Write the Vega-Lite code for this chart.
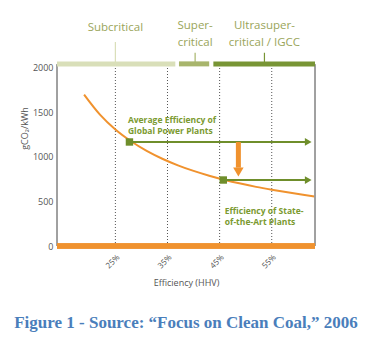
{
  "$schema": "https://vega.github.io/schema/vega-lite/v6.json",
  "width": 258,
  "height": 236,
  "autosize": {"type": "none"},
  "padding": {"left": 57, "top": 10, "right": 52, "bottom": 103},
  "background": "white",
  "config": {
    "view": {"stroke": null},
    "font": "Open Sans"
  },
  "title": {"text": "Figure 1 - Source: \u201cFocus on Clean Coal,\u201d 2006", "orient": "bottom", "anchor": "middle", "font": "Liberation Serif", "fontSize": 17, "fontWeight": "bold", "color": "#4a7ebb", "offset": 27},
  "datasets": {
    "curve": [
      {"eff": 19, "co2": 1700}, {"eff": 22, "co2": 1478}, {"eff": 25, "co2": 1308}, {"eff": 28, "co2": 1176},
      {"eff": 31, "co2": 1068}, {"eff": 34, "co2": 980}, {"eff": 37, "co2": 906}, {"eff": 40, "co2": 843},
      {"eff": 43, "co2": 789}, {"eff": 46, "co2": 742}, {"eff": 49, "co2": 701}, {"eff": 52, "co2": 664},
      {"eff": 55, "co2": 632}, {"eff": 58, "co2": 603}, {"eff": 61, "co2": 576}, {"eff": 63.3, "co2": 556}
    ],
    "ticks": [{"eff": 25}, {"eff": 35}, {"eff": 45}, {"eff": 55}],
    "tech": [
      {"tech": "Subcritical", "start": 13.8, "end": 36.5, "mid": 25, "top": 2290, "label": "Subcritical", "ly": 2450},
      {"tech": "Supercritical", "start": 37.2, "end": 43.0, "mid": 40.3, "top": 2170, "label": "Super-\ncritical", "ly": 2475},
      {"tech": "Ultrasupercritical", "start": 43.8, "end": 63.3, "mid": 53.6, "top": 2170, "label": "Ultrasuper-\ncritical / IGCC", "ly": 2475}
    ],
    "plants": [
      {"name": "Average", "eff": 27.7, "co2": 1168, "end": 62.0},
      {"name": "State-of-the-Art", "eff": 45.7, "co2": 741, "end": 62.0}
    ],
    "notes": [
      {"eff": 27.4, "co2": 1416, "text": "Average Efficiency of\nGlobal Power Plants"},
      {"eff": 46.0, "co2": 393, "text": "Efficiency of State-\nof-the-Art Plants"}
    ],
    "drop": [{"eff": 48.6, "from": 1168, "to": 880, "tip": 830}]
  },
  "layer": [
    {
      "data": {"name": "ticks"},
      "mark": {"type": "rule", "strokeDash": [1, 2], "color": "#555555", "strokeWidth": 1},
      "encoding": {
        "x": {"field": "eff", "type": "quantitative", "scale": {"domain": [13.8, 63.3], "nice": false, "zero": false}, "title": "Efficiency (HHV)",
          "axis": {"values": [25, 35, 45, 55], "labelExpr": "datum.value + '%'", "labelAngle": -45, "labelFontSize": 8, "labelColor": "#555555", "ticks": false, "domain": false, "grid": false, "labelPadding": 7, "titleFontSize": 9, "titleFontWeight": "normal", "titleColor": "#555555", "titlePadding": 9}},
        "y": {"datum": 0, "type": "quantitative", "scale": {"domain": [0, 2650], "nice": false, "zero": false}},
        "y2": {"datum": 2000}
      }
    },
    {
      "data": {"name": "curve"},
      "mark": {"type": "line", "color": "#f0922e", "strokeWidth": 2, "interpolate": "monotone"},
      "encoding": {
        "x": {"field": "eff", "type": "quantitative"},
        "y": {"field": "co2", "type": "quantitative", "title": "gCO\u2082/kWh",
          "axis": {"values": [0, 500, 1000, 1500, 2000], "format": "d", "domain": false, "ticks": false, "grid": false, "labelFontSize": 9, "labelColor": "#555555", "labelPadding": 4, "titleFontSize": 9, "titleFontWeight": "normal", "titleColor": "#555555", "titlePadding": 3}}
      }
    },
    {
      "data": {"name": "ticks"},
      "mark": {"type": "rule", "color": "#9a9a9a", "strokeWidth": 1},
      "encoding": {
        "x": {"datum": 13.8, "type": "quantitative"},
        "y": {"datum": 0, "type": "quantitative"},
        "y2": {"datum": 2040}
      }
    },
    {
      "data": {"name": "ticks"},
      "mark": {"type": "rule", "color": "#9a9a9a", "strokeWidth": 1},
      "encoding": {
        "x": {"datum": 63.3, "type": "quantitative"},
        "y": {"datum": 0, "type": "quantitative"},
        "y2": {"datum": 2040}
      }
    },
    {
      "data": {"name": "tech"},
      "mark": {"type": "rule", "strokeWidth": 5},
      "encoding": {
        "x": {"field": "start", "type": "quantitative"},
        "x2": {"field": "end"},
        "y": {"datum": 2045, "type": "quantitative"},
        "color": {"field": "tech", "type": "nominal", "scale": {"domain": ["Subcritical", "Supercritical", "Ultrasupercritical"], "range": ["#d9dfb9", "#a8b56c", "#789535"]}, "legend": null}
      }
    },
    {
      "data": {"name": "tech"},
      "mark": {"type": "rule", "strokeWidth": 1.2},
      "encoding": {
        "x": {"field": "mid", "type": "quantitative"},
        "y": {"field": "top", "type": "quantitative"},
        "y2": {"datum": 2065},
        "color": {"field": "tech", "type": "nominal", "legend": null}
      }
    },
    {
      "data": {"name": "tech"},
      "mark": {"type": "text", "fontSize": 11.5, "color": "#9aa55a", "align": "center", "baseline": "middle", "lineBreak": "\n", "lineHeight": 17},
      "encoding": {
        "x": {"field": "mid", "type": "quantitative"},
        "y": {"field": "ly", "type": "quantitative"},
        "text": {"field": "label"}
      }
    },
    {
      "data": {"name": "ticks"},
      "mark": {"type": "rule", "color": "#f0922e", "strokeWidth": 5},
      "encoding": {
        "x": {"datum": 13.8, "type": "quantitative"},
        "x2": {"datum": 63.3},
        "y": {"datum": 0, "type": "quantitative"}
      }
    },
    {
      "data": {"name": "plants"},
      "mark": {"type": "rule", "color": "#6f8e2b", "strokeWidth": 2},
      "encoding": {
        "x": {"field": "eff", "type": "quantitative"},
        "x2": {"field": "end"},
        "y": {"field": "co2", "type": "quantitative"}
      }
    },
    {
      "data": {"name": "plants"},
      "mark": {"type": "point", "shape": "triangle-right", "filled": true, "color": "#6f8e2b", "size": 60, "opacity": 1},
      "encoding": {
        "x": {"field": "end", "type": "quantitative"},
        "y": {"field": "co2", "type": "quantitative"}
      }
    },
    {
      "data": {"name": "plants"},
      "mark": {"type": "square", "color": "#6f8e2b", "size": 55, "opacity": 1},
      "encoding": {
        "x": {"field": "eff", "type": "quantitative"},
        "y": {"field": "co2", "type": "quantitative"}
      }
    },
    {
      "data": {"name": "drop"},
      "mark": {"type": "rule", "color": "#f0922e", "strokeWidth": 5},
      "encoding": {
        "x": {"field": "eff", "type": "quantitative"},
        "y": {"field": "from", "type": "quantitative"},
        "y2": {"field": "to"}
      }
    },
    {
      "data": {"name": "drop"},
      "mark": {"type": "point", "shape": "triangle-down", "filled": true, "color": "#f0922e", "size": 110, "opacity": 1},
      "encoding": {
        "x": {"field": "eff", "type": "quantitative"},
        "y": {"field": "tip", "type": "quantitative"}
      }
    },
    {
      "data": {"name": "notes"},
      "mark": {"type": "text", "fontSize": 8.5, "fontWeight": "bold", "color": "#7b9a30", "align": "left", "baseline": "middle", "lineBreak": "\n", "lineHeight": 11},
      "encoding": {
        "x": {"field": "eff", "type": "quantitative"},
        "y": {"field": "co2", "type": "quantitative"},
        "text": {"field": "text"}
      }
    }
  ]
}
